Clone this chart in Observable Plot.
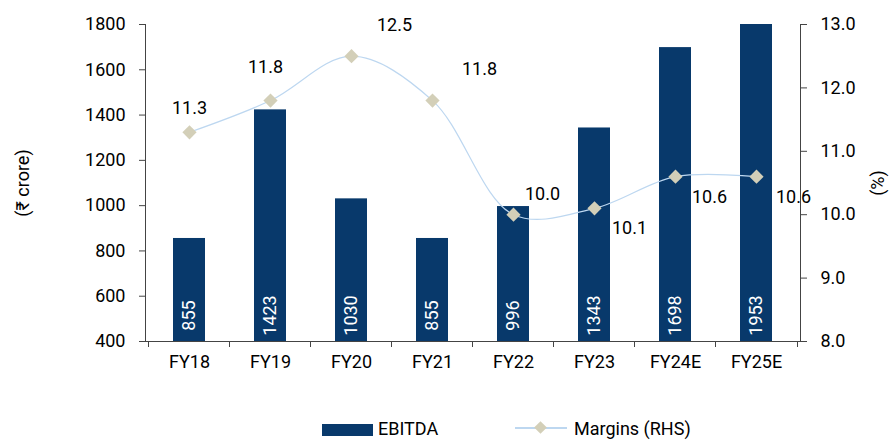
<!DOCTYPE html>
<html><head><meta charset="utf-8">
<script src="https://cdn.jsdelivr.net/npm/d3@7"></script>
<script src="https://cdn.jsdelivr.net/npm/@observablehq/plot@0.6"></script>
<style>
body{margin:0;background:#fff;font-family:Roboto,"DejaVu Sans Condensed",sans-serif;}
#wrap{position:relative;width:890px;height:441px;overflow:hidden;}
.lg{position:absolute;font-size:18px;color:#000;line-height:18px;white-space:nowrap;}
</style></head><body>
<div id="wrap"><div id="chart"></div></div>
<script>
const categories = ["FY18","FY19","FY20","FY21","FY22","FY23","FY24E","FY25E"];
const ebitda = [855,1423,1030,855,996,1343,1698,1953];
const margins = [11.3,11.8,12.5,11.8,10.0,10.1,10.6,10.6];
const leftTicks = [400,600,800,1000,1200,1400,1600,1800];
const rightTicks = [8,9,10,11,12,13];
const seriesNames = ["EBITDA","Margins (RHS)"];
const leftTitle = "(₹ crore)";
const rightTitle = "(%)";

const barColor = "#08396b", lineColor = "#bdd7f0", dotColor = "#d3cfb8";
const font = 'Roboto,"DejaVu Sans Condensed",sans-serif';
const toLeft = m => 400 + (m - 8) * 280;
const fromLeft = v => (v - 400) / 280 + 8;

const data = categories.map((c, i) => ({cat: c, ebitda: ebitda[i], margin: margins[i], my: toLeft(margins[i])}));

const placements = [["FY18",0,-24],["FY19",-5,-33],["FY20",43,-31],["FY21",47,-31],["FY22",29,-20],["FY23",35,20],["FY24E",34,21],["FY25E",37,21]];

const chart = Plot.plot({
  width: 890, height: 410,
  marginLeft: 145, marginRight: 90, marginTop: 24, marginBottom: 69,
  style: {fontFamily: font, fontSize: "18px", color: "#000", background: "#fff", overflow: "visible"},
  x: {domain: categories, paddingInner: 0.6, paddingOuter: 0.3, axis: null},
  y: {domain: [400, 1800], axis: null},
  marks: [
    Plot.barY(data, {x: "cat", y1: 400, y2: "ebitda", fill: barColor, clip: true}),
    Plot.text(data, {x: "cat", y: 400, text: d => String(d.ebitda), rotate: -90, dy: -26, fill: "#fff", textAnchor: "middle", lineAnchor: "middle", fontSize: 18}),
    Plot.line(data, {x: "cat", y: "my", curve: "catmull-rom", stroke: lineColor, strokeWidth: 1.2}),
    Plot.dot(data, {x: "cat", y: "my", symbol: "diamond2", r: 6.4, fill: dotColor, stroke: "none"}),
    ...placements.map(([c, dx, dy]) => Plot.text(data.filter(d => d.cat === c), {x: "cat", y: "my", text: d => d.margin.toFixed(1), dx, dy, fill: "#000", textAnchor: "middle", lineAnchor: "middle", fontSize: 18})),
    Plot.axisY({ticks: leftTicks, tickSize: 6, tickPadding: 14, tickFormat: d => String(d), stroke: "#444", fontSize: 18, label: null}),
    Plot.axisY({anchor: "right", ticks: rightTicks.map(toLeft), tickSize: 6, tickPadding: 14, tickFormat: v => fromLeft(v).toFixed(1), stroke: "#444", fontSize: 18, label: null}),
    Plot.axisX({tickSize: 0, tickPadding: 14, fontSize: 18, label: null}),
    Plot.ruleX(categories, {x: d => d, dx: -41, y1: 400, y2: 400, insetBottom: -6, stroke: "#444"}),
    Plot.ruleX(categories.slice(-1), {x: d => d, dx: 41, y1: 400, y2: 400, insetBottom: -6, stroke: "#444"}),
    Plot.frame({anchor: "left", stroke: "#444"}),
    Plot.frame({anchor: "right", stroke: "#444"}),
    Plot.frame({anchor: "bottom", stroke: "#444"}),
    Plot.text([leftTitle], {text: d => d, frameAnchor: "left", dx: -122, rotate: -90, textAnchor: "middle", lineAnchor: "middle", fontSize: 18, fill: "#000"}),
    Plot.text([rightTitle], {text: d => d, frameAnchor: "right", dx: 78, rotate: -90, textAnchor: "middle", lineAnchor: "middle", fontSize: 18, fill: "#000"})
  ]
});
const wrap = document.getElementById("wrap");
document.getElementById("chart").appendChild(chart);

function addEl(css, html){ const e = document.createElement("div"); e.className = "lg"; e.style.cssText = css; e.innerHTML = html; wrap.appendChild(e); return e; }
// legend
addEl(`left:322px;top:424px;width:51px;height:12px;background:${barColor};`, "");
addEl("left:378px;top:420px;", seriesNames[0]);
addEl(`left:515px;top:427px;width:52px;height:2px;background:${lineColor};`, "");
addEl(`left:536px;top:423px;width:9px;height:9px;background:${dotColor};transform:rotate(45deg);`, "");
addEl("left:574px;top:420px;", seriesNames[1]);
</script>
</body></html>
